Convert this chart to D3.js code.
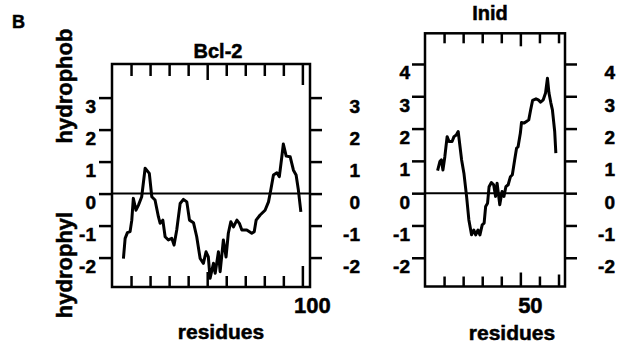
<!DOCTYPE html>
<html>
<head>
<meta charset="utf-8">
<script src="https://cdn.jsdelivr.net/npm/d3@7"></script>
<style>
  body { margin: 0; background: #fff; }
  text { font-family: "Liberation Sans", Arial, sans-serif; font-weight: bold; stroke: #000; stroke-width: 0.5px; }
</style>
</head>
<body>
<script>
const w = 629;
const h = 346;

// Bcl-2 hydropathy profile (residue, value)
const bclRes = [6.0, 6.9, 8.1, 9.5, 10.4, 11.2, 12.6, 13.9, 15.6, 17.4, 19.6, 20.9, 22.6, 24.4, 25.3, 26.7,
  27.9, 29.6, 31.4, 32.6, 34.0, 35.8, 37.5, 39.3, 40.7, 42.8, 44.5, 46.3, 48.0, 49.4, 50.6, 51.5, 53.3,
  54.2, 55.9, 56.8, 58.5, 59.9, 61.1, 62.4, 63.8, 65.6, 66.9, 68.2, 70.8, 73.4, 74.7, 75.7, 77.8, 80.4,
  82.2, 83.4, 84.8, 86.6, 87.9, 89.2, 90.0, 91.5, 93.6, 95.3, 96.7, 97.9, 99.2];
const bclVal = [-2.03, -1.40, -1.22, -1.19, -0.83, -0.15, -0.52, -0.36, -0.10, 0.79, 0.63, -0.10, -0.20, -0.73, -0.93, -0.83,
  -1.35, -1.45, -1.40, -1.61, -1.14, -0.31, -0.18, -0.26, -0.83, -0.91, -1.35, -2.03, -2.18, -1.82, -1.98, -2.65, -2.18,
  -2.49, -1.82, -2.44, -1.45, -1.98, -1.24, -0.88, -1.04, -0.83, -0.93, -1.14, -1.14, -1.24, -1.19, -0.83, -0.67, -0.52,
  -0.26, 0.11, 0.58, 0.65, 0.53, 1.15, 1.55, 1.17, 1.15, 0.73, 0.58, 0.11, -0.57];

// Inid hydropathy profile (residue, value)
const inidRes = [28.3, 28.9, 29.3, 29.7, 30.2, 30.8, 31.3, 32.1, 32.6, 33.2, 33.7, 34.6, 35.2, 35.9, 36.5, 37.2,
  37.8, 38.3, 38.9, 39.4, 40.0, 40.5, 40.9, 41.4, 41.8, 42.4, 43.0, 43.5, 43.9, 44.6, 45.2, 45.7, 46.2,
  46.8, 47.4, 47.9, 48.5, 49.0, 49.4, 50.0, 50.3, 51.0, 51.6, 52.2, 52.7, 53.2, 54.1, 54.7, 55.3, 56.0,
  56.6, 57.1, 57.5, 58.0, 58.4, 59.0, 59.3];
const inidVal = [0.70, 0.98, 1.03, 0.72, 1.13, 1.75, 1.60, 1.60, 1.75, 1.80, 1.91, 1.03, 0.62, -0.10, -0.83, -1.29,
  -1.14, -1.29, -1.14, -1.29, -0.98, -0.93, -0.41, -0.31, 0.20, 0.33, 0.26, -0.10, 0.31, -0.36, 0.05, -0.10, 0.20,
  0.26, 0.51, 0.57, 1.03, 1.39, 1.44, 1.86, 2.19, 2.17, 2.22, 2.27, 2.58, 2.87, 2.92, 2.89, 2.82, 2.89,
  3.10, 3.56, 3.10, 2.79, 2.58, 1.91, 1.24];

const bclXTicks = [10, 20, 30, 40, 50, 60, 70, 80, 90, 100];
const bclYTicks = [-2, -1, 0, 1, 2, 3];
const inidXTicks = [30, 35, 40, 45, 50, 55, 60];
const inidYTicks = [-2, -1, 0, 1, 2, 3, 4];

const svg = d3.select("body")
  .append("svg")
  .attr("width", w)
  .attr("height", h);

const fmt = d => String(d);  // plain hyphen minus, as in the figure

function panel(o) {
  const x = d3.scaleLinear().domain(o.xDomain).range([o.left, o.right]);
  const y = d3.scaleLinear().domain(o.yDomain).range([o.bottom, o.top]);
  const g = svg.append("g");

  // TOP / BOTTOM TICKS (inward)
  const topAx = g.append("g")
    .attr("transform", `translate(0, ${o.top})`)
    .call(d3.axisTop(x).tickValues(o.xTicks).tickSizeOuter(0).tickFormat(""));
  topAx.select(".domain").remove();
  topAx.selectAll(".tick line").attr("y2", d => o.topLen(d)).attr("stroke-width", 2.5);

  const botAx = g.append("g")
    .attr("transform", `translate(0, ${o.bottom})`)
    .call(d3.axisBottom(x).tickValues(o.xTicks).tickSizeOuter(0).tickFormat(""));
  botAx.select(".domain").remove();
  botAx.selectAll(".tick line").attr("y2", d => -o.botLen(d)).attr("stroke-width", 2.5);

  // LEFT / RIGHT AXES (outward)
  const leftAx = g.append("g")
    .attr("transform", `translate(${o.left}, 0)`)
    .call(d3.axisLeft(y).tickValues(o.yTicks).tickFormat(fmt)
      .tickSize(13).tickPadding(o.leftPad).tickSizeOuter(0));
  leftAx.select(".domain").remove();
  leftAx.attr("font-size", 19).attr("font-family", null);
  leftAx.selectAll(".tick line").attr("stroke-width", 2.5);
  leftAx.selectAll(".tick text").attr("dy", null).attr("y", 15);

  const rightAx = g.append("g")
    .attr("transform", `translate(${o.right}, 0)`)
    .call(d3.axisRight(y).tickValues(o.yTicks).tickFormat(fmt)
      .tickSize(12).tickSizeOuter(0));
  rightAx.select(".domain").remove();
  rightAx.attr("font-size", 19).attr("font-family", null);
  rightAx.selectAll(".tick line").attr("stroke-width", 2.5);
  rightAx.selectAll(".tick text")
    .attr("dy", null).attr("y", 15)
    .attr("text-anchor", "end").attr("x", 50);

  // FRAME
  g.append("rect")
    .attr("x", o.left).attr("y", o.top)
    .attr("width", o.right - o.left).attr("height", o.bottom - o.top)
    .attr("fill", "none").attr("stroke", "#000").attr("stroke-width", 2.5);

  // ZERO LINE
  g.append("line")
    .attr("x1", o.left).attr("x2", o.right)
    .attr("y1", y(0)).attr("y2", y(0))
    .attr("stroke", "#000").attr("stroke-width", 2);

  // PROFILE
  const line = d3.line()
    .x((d, i) => x(o.res[i]))
    .y(d => y(d));
  g.append("path")
    .datum(o.val)
    .attr("d", line)
    .attr("fill", "none")
    .attr("stroke", "#000")
    .attr("stroke-width", 3)
    .attr("stroke-linejoin", "round");

  // LABELS
  g.append("text")
    .attr("x", x(o.xLabel) + 10).attr("y", 313)
    .attr("text-anchor", "middle").attr("font-size", 22)
    .text(o.xLabel);
  g.append("text")
    .attr("x", o.resX).attr("y", o.resY)
    .attr("text-anchor", "middle").attr("font-size", 21)
    .text("residues");
  g.append("text")
    .attr("x", o.titleX).attr("y", o.titleY)
    .attr("text-anchor", "middle").attr("font-size", 20)
    .text(o.title);
}

panel({
  left: 112, right: 310, top: 64, bottom: 287,
  xDomain: [0, 104], yDomain: [-2.92, 4.05],
  xTicks: bclXTicks, yTicks: bclYTicks,
  res: bclRes, val: bclVal,
  topLen: d => d === 100 ? 21 : d === 50 ? 16 : 12,
  botLen: d => d === 100 ? 21 : d === 50 ? 15 : 11,
  leftPad: 3,
  xLabel: 100, resX: 221, resY: 339,
  title: "Bcl-2", titleX: 218, titleY: 58
});

panel({
  left: 425, right: 565, top: 33.3, bottom: 286.5,
  xDomain: [25, 61.7], yDomain: [-2.89, 4.95],
  xTicks: inidXTicks, yTicks: inidYTicks,
  res: inidRes, val: inidVal,
  topLen: d => d === 50 ? 13 : 10,
  botLen: d => d === 50 ? 14 : d === 60 ? 12 : 10,
  leftPad: 2,
  xLabel: 50, resX: 512, resY: 340,
  title: "Inid", titleX: 490, titleY: 20
});

// Y AXIS TITLE
svg.append("text")
  .attr("transform", "translate(72, 86) rotate(-90)")
  .attr("text-anchor", "middle").attr("font-size", 22)
  .text("hydrophob");
svg.append("text")
  .attr("transform", "translate(72, 265) rotate(-90)")
  .attr("text-anchor", "middle").attr("font-size", 22)
  .text("hydrophyl");

// PANEL LETTER
svg.append("text")
  .attr("x", 12).attr("y", 28)
  .attr("font-size", 18)
  .text("B");
</script>
</body>
</html>
